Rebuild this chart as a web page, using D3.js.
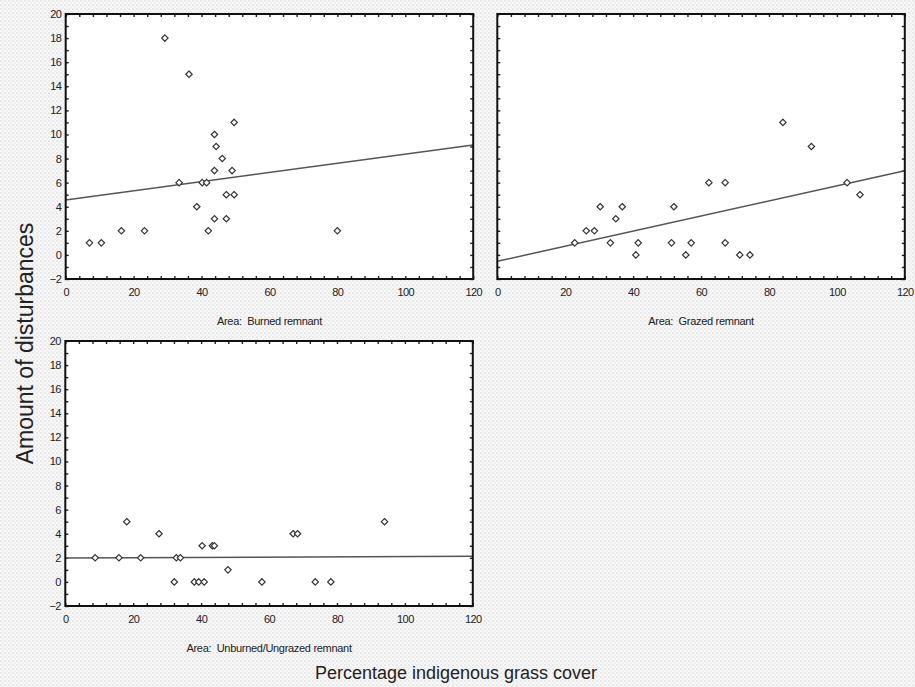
<!DOCTYPE html>
<html>
<head>
<meta charset="utf-8">
<script src="https://cdn.jsdelivr.net/npm/d3@7"></script>
<style>
  body { margin: 0; background: #f3f3f3; }
  svg { display: block; font-family: "Liberation Sans", Arial, sans-serif; }
</style>
</head>
<body>
<div id="corpo"></div>
<script>
// values
var xTicks = [0, 20, 40, 60, 80, 100, 120];
var yTicks = [-2, 0, 2, 4, 6, 8, 10, 12, 14, 16, 18, 20];

var burnedX = [7, 10.5, 16.4, 23.2, 29.2, 36.3, 33.4, 38.6, 40.2, 41.5, 42, 43.8, 44.3, 46.1, 43.8, 49, 49.6, 47.3, 49.6, 43.8, 47.3, 80];
var burnedY = [1, 1, 2, 2, 18, 15, 6, 4, 6, 6, 2, 10, 9, 8, 7, 7, 11, 5, 5, 3, 3, 2];
var burnedFit = [4.56, 0.038];   // intercept, slope

var grazedX = [22.8, 26.2, 28.6, 30.3, 33.3, 34.9, 36.8, 40.8, 41.5, 51.3, 52, 55.5, 57.1, 62.3, 67.1, 67.1, 71.4, 74.4, 84.1, 92.5, 103, 106.8];
var grazedY = [1, 2, 2, 4, 1, 3, 4, 0, 1, 1, 4, 0, 1, 6, 6, 1, 0, 0, 11, 9, 6, 5];
var grazedFit = [-0.53, 0.0626];

var unburnedX = [8.8, 15.8, 18.1, 22.2, 27.6, 32.1, 32.7, 33.9, 38, 39.3, 40.9, 40.3, 43.3, 43.9, 47.9, 57.9, 67.1, 68.4, 73.6, 78.2, 94];
var unburnedY = [2, 2, 5, 2, 4, 0, 2, 2, 0, 0, 0, 3, 3, 3, 1, 0, 4, 4, 0, 0, 5];
var unburnedFit = [1.99, 0.0012];

var panels = [
    {left: 65.7, top: 14, xs: burnedX, ys: burnedY, fit: burnedFit, title: "Area:  Burned remnant", yLabels: true},
    {left: 497.3, top: 14, xs: grazedX, ys: grazedY, fit: grazedFit, title: "Area:  Grazed remnant", yLabels: false},
    {left: 65.3, top: 341, xs: unburnedX, ys: unburnedY, fit: unburnedFit, title: "Area:  Unburned/Ungrazed remnant", yLabels: true}
];

var width = 915, height = 687;
var pw = 407.5, ph = 265;

var svg = d3.select("#corpo").append("svg")
    .attr("width", width)
    .attr("height", height);

// scanned paper texture
var pat = svg.append("defs").append("pattern")
    .attr("id", "dots")
    .attr("width", 4).attr("height", 4)
    .attr("patternUnits", "userSpaceOnUse");
pat.append("rect").attr("width", 4).attr("height", 4).attr("fill", "#f7f7f7");
pat.append("circle").attr("cx", 1).attr("cy", 1).attr("r", 0.7).attr("fill", "#d2d2d2");
pat.append("circle").attr("cx", 3).attr("cy", 3).attr("r", 0.6).attr("fill", "#dcdcdc");

svg.append("rect")
    .attr("width", width).attr("height", height)
    .attr("fill", "url(#dots)");

var x = d3.scaleLinear().domain([0, 120]).range([0, pw]);
var y = d3.scaleLinear().domain([-2, 20]).range([ph, 0]);

var diamond = "M0,-3.2L3.2,0L0,3.2L-3.2,0Z";

panels.forEach(function(p){
    var g = svg.append("g")
        .attr("transform", "translate(" + p.left + "," + p.top + ")");

    g.append("rect")
        .attr("width", pw).attr("height", ph)
        .attr("fill", "#fff");

    // minor inward ticks on all four sides
    var minorX = d3.range(0, 121, 4);
    var minorY = d3.range(-2, 21, 1);
    var tickParts = [
        [d3.axisBottom(x).tickValues(minorX).tickSize(-3), "translate(0," + ph + ")"],
        [d3.axisTop(x).tickValues(minorX).tickSize(-3), null],
        [d3.axisLeft(y).tickValues(minorY).tickSize(-3), null],
        [d3.axisRight(y).tickValues(minorY).tickSize(-3), "translate(" + pw + ",0)"]
    ];
    tickParts.forEach(function(t){
        var a = g.append("g").call(t[0].tickFormat(""));
        if (t[1]) a.attr("transform", t[1]);
        a.select(".domain").remove();
        a.selectAll("line").attr("stroke", "#222").attr("stroke-width", 1.4);
    });

    // labels
    var xa = g.append("g")
        .attr("transform", "translate(0," + ph + ")")
        .call(d3.axisBottom(x).tickValues(xTicks).tickSize(0).tickPadding(9));
    xa.select(".domain").remove();
    xa.selectAll("text")
        .style("font-size", "11px")
        .style("letter-spacing", "-0.6px")
        .attr("fill", "#222");

    if (p.yLabels) {
        var ya = g.append("g")
            .call(d3.axisLeft(y).tickValues(yTicks).tickSize(0).tickPadding(4.5));
        ya.select(".domain").remove();
        ya.selectAll("text")
            .style("font-size", "11px")
            .style("letter-spacing", "-0.6px")
            .attr("fill", "#222");
    }

    // fitted line
    g.append("line")
        .attr("x1", x(0)).attr("y1", y(p.fit[0]))
        .attr("x2", x(120)).attr("y2", y(p.fit[0] + p.fit[1] * 120))
        .attr("stroke", "#555")
        .attr("stroke-width", 1.5);

    // points
    g.selectAll(".pt")
        .data(p.xs.map(function(v, i){ return [v, p.ys[i]]; }))
        .enter().append("path")
        .attr("class", "pt")
        .attr("d", diamond)
        .attr("transform", function(d){ return "translate(" + x(d[0]) + "," + y(d[1]) + ")"; })
        .attr("fill", "#fff")
        .attr("stroke", "#333")
        .attr("stroke-width", 1.2);

    // frame
    g.append("rect")
        .attr("width", pw).attr("height", ph)
        .attr("fill", "none")
        .attr("stroke", "#111")
        .attr("stroke-width", 2);

    g.append("text")
        .attr("x", pw / 2)
        .attr("y", ph + 46)
        .attr("text-anchor", "middle")
        .style("font-size", "11px")
        .style("letter-spacing", "-0.3px")
        .style("white-space", "pre")
        .attr("fill", "#222")
        .text(p.title);
});

svg.append("text")
    .attr("transform", "translate(33,343.5) rotate(-90)")
    .attr("text-anchor", "middle")
    .style("font-size", "23px")
    .attr("fill", "#222")
    .text("Amount of disturbances");

svg.append("text")
    .attr("x", 456)
    .attr("y", 679)
    .attr("text-anchor", "middle")
    .style("font-size", "18px")
    .attr("fill", "#222")
    .text("Percentage indigenous grass cover");
</script>
</body>
</html>
